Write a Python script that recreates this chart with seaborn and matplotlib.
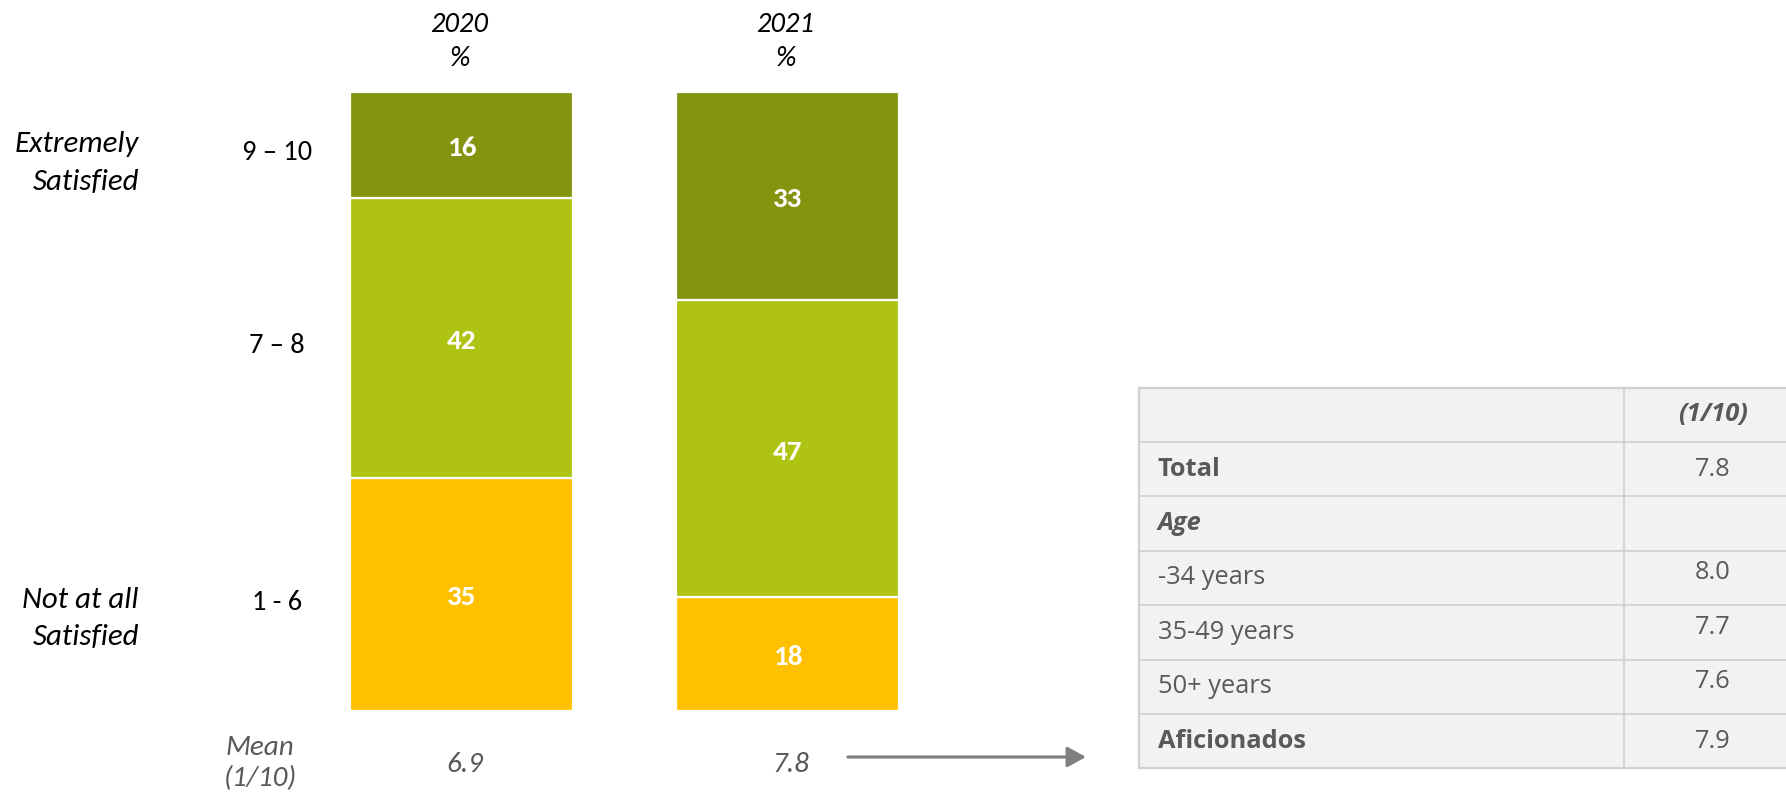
import numpy as np
import pandas as pd
import seaborn as sns
import matplotlib.pyplot as plt
from matplotlib.patches import Rectangle
from matplotlib.transforms import offset_copy

# ---- data -------------------------------------------------------------
years = ["2020", "2021"]
bands = ["1 - 6", "7 – 8", "9 – 10"]          # stacked bottom to top
low_scores = [35, 18]                          # 1 - 6
mid_scores = [42, 47]                          # 7 – 8
top_scores = [16, 33]                          # 9 – 10
mean_scores = [6.9, 7.8]

table_header = "(1/10)"
table_rows = ["Total", "Age", "-34 years", "35-49 years", "50+ years", "Aficionados"]
table_values = ["7.8", "", "8.0", "7.7", "7.6", "7.9"]

band_colors = {"1 - 6": "#FFC000", "7 – 8": "#AFC313", "9 – 10": "#84940E"}

# ---- long-form frame with shares of each year's total ------------------
rows = []
for i, yr in enumerate(years):
    vals = [low_scores[i], mid_scores[i], top_scores[i]]
    tot = sum(vals)
    for b, v in zip(bands, vals):
        rows.append({"year": yr, "band": b, "value": v, "share": v / tot * 100})
df = pd.DataFrame(rows)

# ---- figure -----------------------------------------------------------
sns.set_theme(style="white")
plt.rcParams["font.family"] = ["Carlito", "DejaVu Sans"]
TABLE_FONT = ["Open Sans", "DejaVu Sans"]
GREY = "#595959"

W, H = 1786, 792
fig = plt.figure(figsize=(W / 100, H / 100), dpi=100)


def fx(x):
    return x / W


def fy(y):
    return 1 - y / H


bar_left, bar_right, bar_top, bar_bottom = 298.5, 950.5, 91.7, 710.7
ax = fig.add_axes([fx(bar_left), fy(bar_bottom),
                   (bar_right - bar_left) / W, (bar_bottom - bar_top) / H])
label_tf = offset_copy(ax.transData, fig=fig, x=0, y=-3, units="dots")

bottom = np.zeros(len(years))
for b in bands:
    sub = df[df["band"] == b].set_index("year").loc[years]
    sns.barplot(x=years, y=sub["share"].values, color=band_colors[b],
                saturation=1, width=0.684, bottom=bottom,
                edgecolor="white", linewidth=1.6, ax=ax)
    for i, yr in enumerate(years):
        ax.text(i, bottom[i] + sub["share"].values[i] / 2,
                str(sub["value"].values[i]), ha="center", va="center",
                transform=label_tf, color="white", fontsize=21,
                fontweight="bold")
    bottom = bottom + sub["share"].values

ax.set_xlim(-0.5, 1.5)
ax.set_ylim(0, 100)
ax.axis("off")

# year headers and means under each bar
for i, yr in enumerate(years):
    xc = bar_left + (i + 0.5) * (bar_right - bar_left) / 2
    fig.text(fx(xc - 2), fy(32), yr, ha="center", va="baseline",
             fontsize=20.5, style="italic", color="black")
    fig.text(fx(xc - 2), fy(66), "%", ha="center", va="baseline",
             fontsize=20.5, style="italic", color="black")
    fig.text(fx(xc + 3), fy(772), f"{mean_scores[i]:.1f}", ha="center",
             va="baseline", fontsize=21, style="italic", color=GREY)

# band labels
band_label_base = {"9 – 10": 160, "7 – 8": 353, "1 - 6": 610}
for b in bands:
    fig.text(fx(277), fy(band_label_base[b]), b, ha="center", va="baseline",
             fontsize=20.4, color="black")

for txt, y in [("Extremely", 152), ("Satisfied", 190),
               ("Not at all", 608), ("Satisfied", 645)]:
    fig.text(fx(139), fy(y), txt, ha="right", va="baseline",
             fontsize=22.2, style="italic", color="black")

fig.text(fx(260), fy(755), "Mean", ha="center", va="baseline",
         fontsize=21, style="italic", color=GREY)
fig.text(fx(260), fy(786), "(1/10)", ha="center", va="baseline",
         fontsize=21, style="italic", color=GREY)

# arrow pointing to the breakdown table
fig.add_artist(plt.Annotation(
    "", xy=(fx(1086), fy(757)), xytext=(fx(848), fy(757)),
    xycoords="figure fraction", textcoords="figure fraction",
    arrowprops=dict(arrowstyle="-|>,head_length=0.4,head_width=0.22",
                    color="#7F7F7F", lw=2.3, mutation_scale=28,
                    shrinkA=0, shrinkB=0)))

# ---- breakdown table ----------------------------------------------------
t_left, t_right, t_top, row_h, col_split = 1138.5, 1805, 387.5, 54.4, 1623.5
n_rows = len(table_rows) + 1
tax = fig.add_axes([fx(t_left), 0, 1 - fx(t_left), 1])
tax.set_xlim(t_left, W)
tax.set_ylim(H, 0)
tax.axis("off")
t_bottom = t_top + n_rows * row_h
tax.add_patch(Rectangle((t_left, t_top), t_right - t_left, t_bottom - t_top,
                        facecolor="#F2F2F2", edgecolor="#D0D0D0", lw=1.6,
                        clip_on=False))
for k in range(1, n_rows):
    tax.plot([t_left, t_right], [t_top + k * row_h] * 2, color="#CFCFCF", lw=1.2)
tax.plot([col_split, col_split], [t_top, t_bottom], color="#CFCFCF", lw=1.2)

val_x = 1713
tax.text(val_x, t_top + row_h * 0.5, table_header, ha="center", va="center",
         fontsize=18.3, fontweight="bold", style="italic", color=GREY,
         family=TABLE_FONT)
for r, (lab, val) in enumerate(zip(table_rows, table_values)):
    yc = t_top + row_h * (r + 1.5)
    weight = "bold" if lab in ("Total", "Age", "Aficionados") else "normal"
    style = "italic" if lab == "Age" else "normal"
    tax.text(1158, yc, lab, ha="left", va="center", fontsize=18.3,
             fontweight=weight, style=style, color=GREY, family=TABLE_FONT)
    if val:
        lift = -5 if lab.endswith("years") else 0
        tax.text(val_x, yc + lift, val, ha="center", va="center",
                 fontsize=18.3, color=GREY, family=TABLE_FONT)

fig.savefig("out.png", dpi=100)
